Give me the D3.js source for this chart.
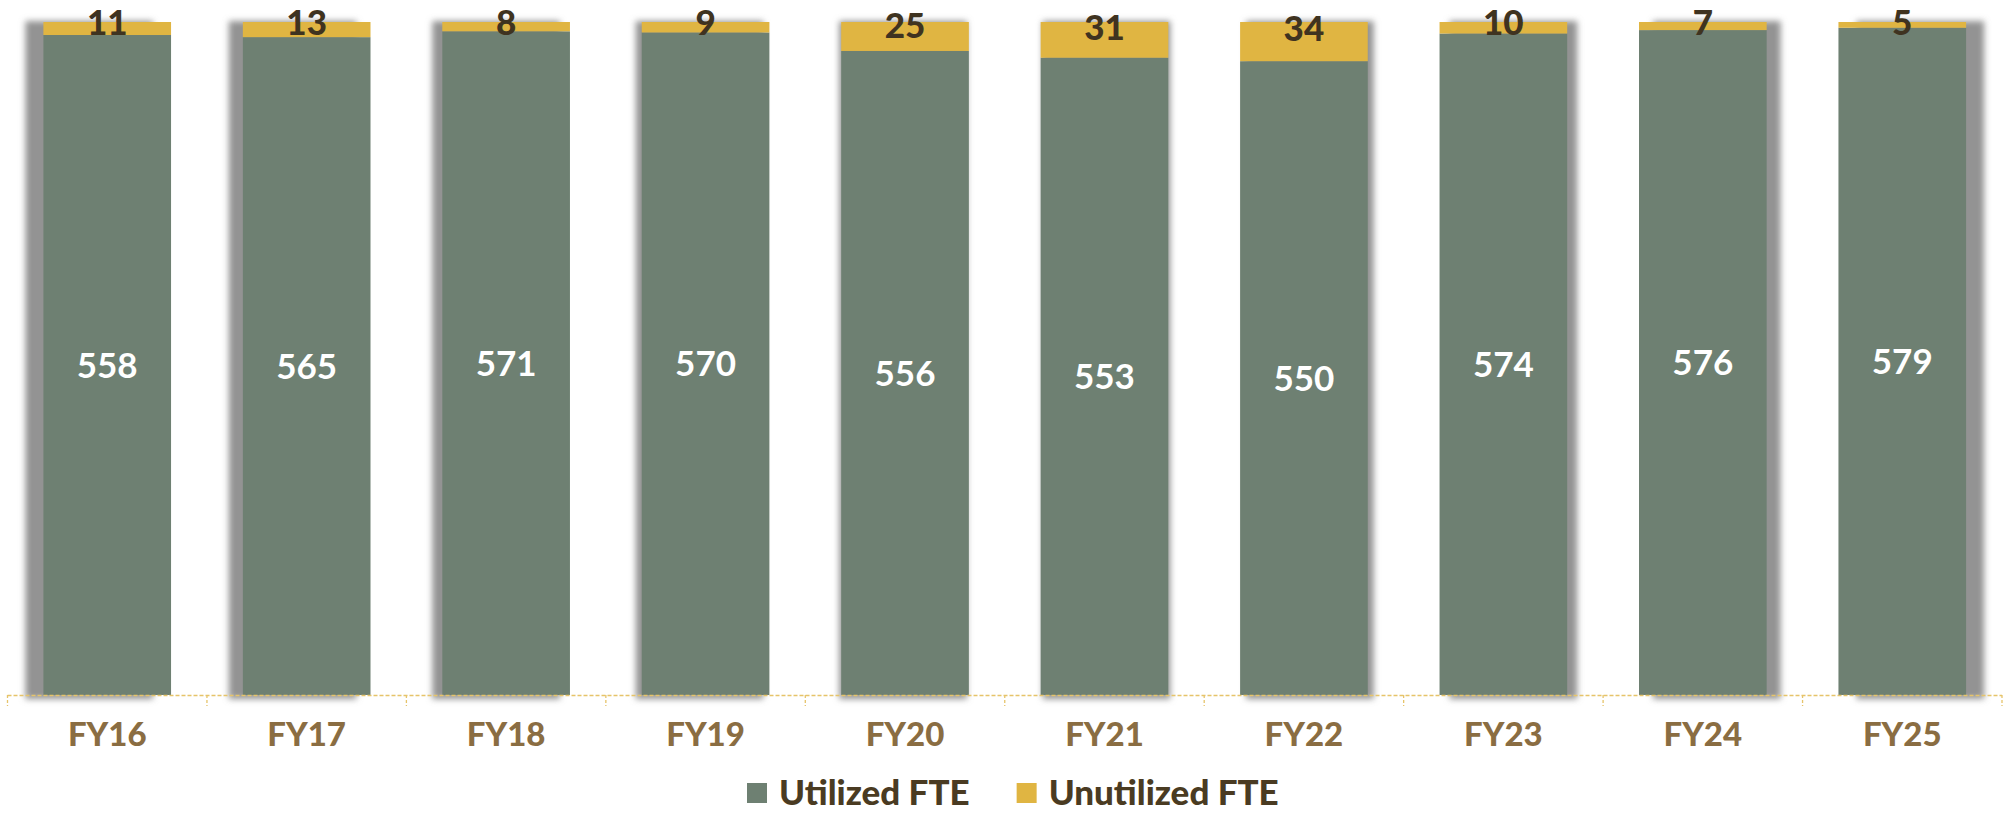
<!DOCTYPE html>
<html>
<head>
<meta charset="utf-8">
<script src="https://cdn.jsdelivr.net/npm/d3@7"></script>
<style>
  html, body { margin: 0; padding: 0; background: #fff; }
  svg { display: block; font-family: "Lato", "Open Sans", sans-serif; }
</style>
</head>
<body>
<div id="chart"></div>
<script>
// chart data
const years = ["FY16", "FY17", "FY18", "FY19", "FY20", "FY21", "FY22", "FY23", "FY24", "FY25"];
const utilized = [558, 565, 571, 570, 556, 553, 550, 574, 576, 579];
const unutilized = [11, 13, 8, 9, 25, 31, 34, 10, 7, 5];
const seriesNames = ["Utilized FTE", "Unutilized FTE"];

const width = 2011, height = 814;
const margin = {top: 22, right: 9, bottom: 119, left: 7.5};
const colors = ["#6e8072", "#e0b542"];

const svg = d3.select("#chart").append("svg")
  .attr("width", width)
  .attr("height", height);

const defs = svg.append("defs");
const filt = defs.append("filter").attr("id", "shadow")
  .attr("x", "-30%").attr("y", "-10%").attr("width", "160%").attr("height", "120%");
filt.append("feGaussianBlur").attr("stdDeviation", 3);

const x = d3.scaleBand()
  .domain(years)
  .range([margin.left, width - margin.right])
  .paddingInner(0.36)
  .paddingOuter(0.18);

const y = d3.scaleLinear()
  .domain([0, 1])
  .range([height - margin.bottom, margin.top]);

const rows = years.map((yr, i) => {
  const total = utilized[i] + unutilized[i];
  return {year: yr, i: i, total: total, u: utilized[i], n: unutilized[i]};
});

// shadows behind bars, pushed outward from the middle
svg.append("g").selectAll("rect")
  .data(rows)
  .join("rect")
    .attr("x", d => x(d.year) - 18 + d.i * 4)
    .attr("y", y(1) - 1)
    .attr("width", x.bandwidth())
    .attr("height", y(0) - y(1) + 5)
    .attr("fill", "#939393")
    .attr("filter", "url(#shadow)");

const bars = svg.append("g");
bars.selectAll("rect.u")
  .data(rows)
  .join("rect")
    .attr("class", "u")
    .attr("x", d => x(d.year))
    .attr("y", d => y(d.u / d.total))
    .attr("width", x.bandwidth())
    .attr("height", d => y(0) - y(d.u / d.total))
    .attr("fill", colors[0]);

bars.selectAll("rect.n")
  .data(rows)
  .join("rect")
    .attr("class", "n")
    .attr("x", d => x(d.year))
    .attr("y", y(1))
    .attr("width", x.bandwidth())
    .attr("height", d => y(d.u / d.total) - y(1))
    .attr("fill", colors[1]);

// axis
const axisY = y(0);
const ax = svg.append("g");
ax.append("line")
  .attr("x1", margin.left).attr("x2", width - margin.right)
  .attr("y1", axisY + 0.5).attr("y2", axisY + 0.5)
  .attr("stroke", "#e6c46a").attr("stroke-width", 1.3)
  .attr("stroke-dasharray", "4,2");
const tickPos = years.map(yr => x(yr) - x.step() * x.paddingInner() / 2);
tickPos.push(width - margin.right);
ax.selectAll("line.tick")
  .data(tickPos)
  .join("line")
    .attr("class", "tick")
    .attr("x1", d => d).attr("x2", d => d)
    .attr("y1", axisY).attr("y2", axisY + 11)
    .attr("stroke", "#e6c46a").attr("stroke-width", 1.3)
    .attr("stroke-dasharray", "3,2");

ax.selectAll("text")
  .data(years)
  .join("text")
    .attr("x", d => x(d) + x.bandwidth() / 2)
    .attr("y", axisY + 51)
    .attr("text-anchor", "middle")
    .attr("font-size", 33)
    .attr("font-weight", 900)
    .attr("fill", "#8a6d42")
    .text(d => d);

// labels
svg.append("g").selectAll("text")
  .data(rows)
  .join("text")
    .attr("x", d => x(d.year) + x.bandwidth() / 2)
    .attr("y", d => (y(d.u / d.total) + y(0)) / 2)
    .attr("dy", "0.36em")
    .attr("text-anchor", "middle")
    .attr("font-size", 35)
    .attr("font-weight", 700)
    .attr("fill", "#ffffff")
    .text(d => d.u);

svg.append("g").selectAll("text")
  .data(rows)
  .join("text")
    .attr("x", d => x(d.year) + x.bandwidth() / 2)
    .attr("y", d => {
      const seg = y(d.u / d.total) - y(1);
      return y(1) + 0.5 + Math.max(0, seg - 22) * 0.37;
    })
    .attr("dy", "0.36em")
    .attr("text-anchor", "middle")
    .attr("font-size", 35)
    .attr("font-weight", 900)
    .attr("fill", "#3f3320")
    .text(d => d.n);

// legend
const legend = svg.append("g");
let lx = 747;
seriesNames.forEach((name, i) => {
  legend.append("rect")
    .attr("x", lx).attr("y", 783)
    .attr("width", 20).attr("height", 20)
    .attr("fill", colors[i]);
  const t = legend.append("text")
    .attr("x", lx + 32).attr("y", 805)
    .attr("font-size", 35)
    .attr("font-weight", 900)
    .attr("fill", "#4a3b22")
    .text(name);
  lx += 32 + t.node().getComputedTextLength() + 47;
});
</script>
</body>
</html>
